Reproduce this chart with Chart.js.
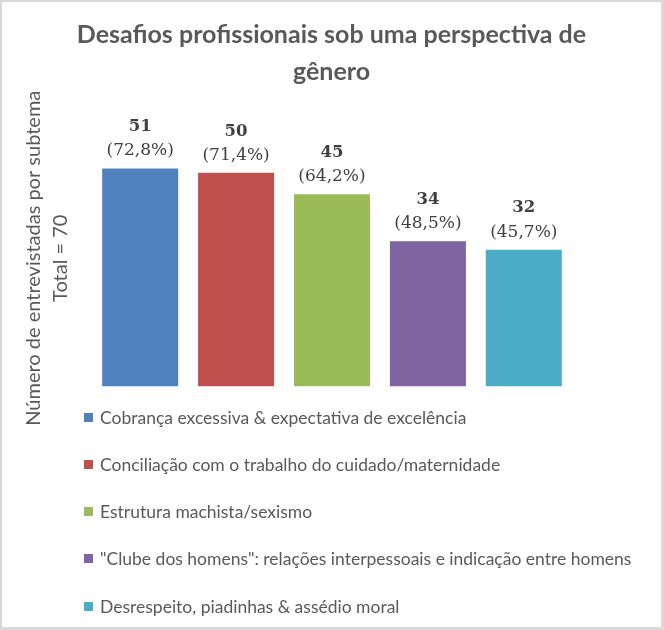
<!DOCTYPE html>
<html lang="pt">
<head>
<meta charset="utf-8">
<title>Desafios profissionais sob uma perspectiva de gênero</title>
<script src="https://cdn.jsdelivr.net/npm/chart.js@4/dist/chart.umd.min.js"></script>
<style>
  html, body { margin: 0; padding: 0; background: #fff; }
  #frame {
    position: relative;
    width: 664px; height: 630px;
    box-sizing: border-box;
    border-style: solid; border-color: #d9d9d9;
    border-width: 2px 3px 3px 2px;
    background: #fff;
  }
  #chart { display: block; }
  #legend {
    position: absolute; left: 82px; top: 391.5px;
    margin: 0; padding: 0; list-style: none;
    font-family: Lato, sans-serif; font-size: 17.5px; color: #595959;
  }
  #legend li { height: 47.25px; display: flex; align-items: center; white-space: nowrap; }
  #legend .box { width: 9px; height: 9px; margin-right: 7px; flex: none; }
</style>
</head>
<body>
<div id="frame">
  <canvas id="chart" width="659" height="625"></canvas>
  <ul id="legend"></ul>
</div>
<script>
// ----------------- Data ----------------
const subthemes = [
  "Cobrança excessiva & expectativa de excelência",
  "Conciliação com o trabalho do cuidado/maternidade",
  "Estrutura machista/sexismo",
  "\"Clube dos homens\": relações interpessoais e indicação entre homens",
  "Desrespeito, piadinhas & assédio moral"
];
const counts = [51, 50, 45, 34, 32];
const shares = ["72,8%", "71,4%", "64,2%", "48,5%", "45,7%"];
const colors = ["#4f81bd", "#c0504d", "#9bbb59", "#8064a2", "#4bacc6"];
const axisTitle = ["Número de entrevistadas por subtema", "Total = 70"];

const GREY = "#595959";

// Count + share printed above each bar
const barLabels = {
  id: "barLabels",
  afterDatasetsDraw(chart) {
    const ctx = chart.ctx;
    ctx.save();
    ctx.textAlign = "center";
    ctx.textBaseline = "middle";
    ctx.fillStyle = "#404040";
    chart.data.datasets.forEach((ds, i) => {
      const bar = chart.getDatasetMeta(i).data[0];
      if (!bar) return;
      ctx.font = 'bold 16.5px "DejaVu Serif"';
      ctx.fillText(String(ds.data[0]), bar.x, bar.y - 41.5);
      ctx.font = '17px "DejaVu Serif"';
      ctx.fillText("(" + shares[i] + ")", bar.x, bar.y - 17.5);
    });
    ctx.restore();
  }
};

const chart = new Chart(document.getElementById("chart"), {
  type: "bar",
  data: {
    labels: [""],
    datasets: subthemes.map((label, i) => ({
      label,
      data: [counts[i]],
      backgroundColor: colors[i],
      categoryPercentage: 0.959,
      barPercentage: 0.7925
    }))
  },
  options: {
    responsive: false,
    animation: false,
    layout: { padding: { top: 0, left: 0, right: 0, bottom: 240.5 } },
    plugins: {
      legend: { display: false },
      tooltip: { enabled: false },
      title: {
        display: true,
        text: ["Desafios profissionais sob uma perspectiva de", "gênero"],
        color: GREY,
        font: { family: "Lato", size: 25, weight: "bold", lineHeight: 1.46 },
        padding: { top: 14.75, bottom: 40.25 }
      }
    },
    scales: {
      x: { display: false },
      y: {
        min: 0,
        max: 60,
        grid: { display: false },
        border: { display: false },
        ticks: { display: false },
        title: {
          display: true,
          text: axisTitle,
          color: GREY,
          font: { family: "Lato", size: 20, lineHeight: 1.35 },
          padding: { top: 18.5, bottom: 0 }
        },
        afterFit: (s) => { s.width = 80; }
      },
      // empty right axis so the plot sits centred under the title
      yPad: {
        position: "right",
        display: true,
        grid: { display: false },
        border: { display: false },
        ticks: { display: false },
        afterFit: (s) => { s.width = 79; }
      }
    }
  },
  plugins: [barLabels]
});

// ----------------- Legend ----------------
document.getElementById("legend").innerHTML = subthemes
  .map((t, i) => `<li><span class="box" style="background:${colors[i]}"></span>${t.replace(/&/g, "&amp;")}</li>`)
  .join("");
</script>
</body>
</html>
